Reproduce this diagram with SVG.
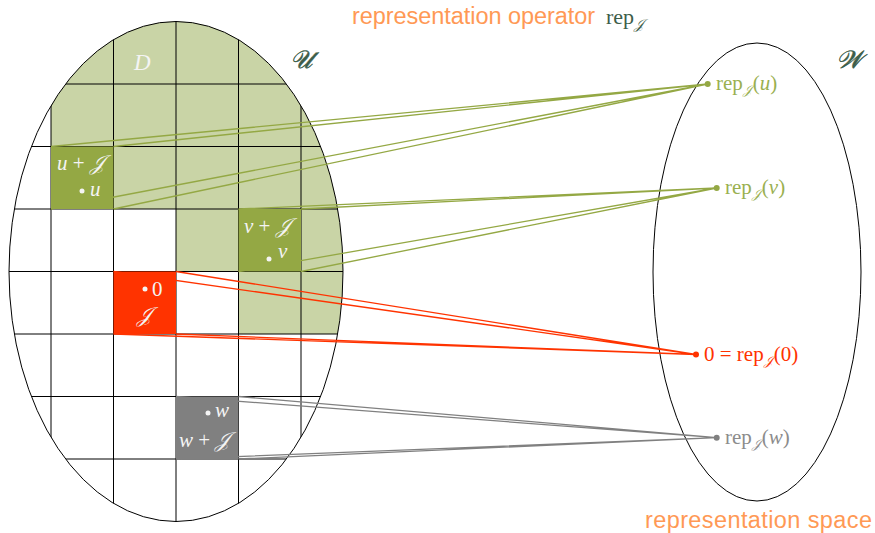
<svg xmlns="http://www.w3.org/2000/svg" width="875" height="533" viewBox="0 0 875 533">
<style>
.ell{fill:none;stroke:#000;stroke-width:1}
.grid{stroke:#000;stroke-width:1;fill:none}
.cg{stroke:#94a844;stroke-width:1.3;fill:none}
.cr{stroke:#ff3300;stroke-width:1.3;fill:none}
.ck{stroke:#808080;stroke-width:1.3;fill:none}
.m{font-family:"Liberation Serif","DejaVu Serif",serif;}
.mi{font-family:"Liberation Serif","DejaVu Serif",serif;font-style:italic}
.sc{font-family:"DejaVu Serif","Noto Sans","DejaVu Sans",serif;font-style:italic}
.big{fill:#3d5e4a;stroke:#3d5e4a;stroke-width:0.5}
.w{fill:#f4f4f4}
.sans{font-family:"Liberation Sans",Arial,sans-serif;fill:#ff9955}
</style>
<defs>
<clipPath id="clipU"><ellipse cx="176" cy="271.5" rx="167" ry="250"/></clipPath>
</defs>
<g id="U">
<path d="M-20 0H400V334H238.5V271.5H176V209H51V84H-20Z" fill="#c9d4a6" clip-path="url(#clipU)"/>
<g clip-path="url(#clipU)" class="grid">
<path d="M51 0V533M113.5 0V533M176 0V533M238.5 0V533M301 0V533"/>
<path d="M0 84H360M0 146.5H360M0 209H360M0 271.5H360M0 334H360M0 396.5H360M0 459H360"/>
</g>
<ellipse class="ell" cx="176" cy="271.5" rx="167" ry="250"/>
<text class="mi w" x="134" y="70" font-size="23">D</text>
<text class="sc big" x="290" y="68" font-size="25">𝒰</text>
</g>
<g id="W">
<ellipse class="ell" cx="757" cy="272" rx="104" ry="229"/>
<text class="sc big" x="836" y="68" font-size="25">𝒲</text>
</g>
<g id="connectors">
<path class="cg" d="M51 146.5L707.7 84M113.5 146.5L707.7 84M51 209L707.7 84M113.5 209L707.7 84"/>
<path class="cg" d="M238.5 209L716.7 188M301 209L716.7 188M238.5 271.5L716.7 188M301 271.5L716.7 188"/>
<path class="cr" d="M113.5 271.5L696 354.5M176 271.5L696 354.5M113.5 334L696 354.5M176 334L696 354.5"/>
<path class="ck" d="M176 396.5L716.7 437.7M238.5 396.5L716.7 437.7M176 459L716.7 437.7M238.5 459L716.7 437.7"/>
</g>
<g id="cell-u">
<rect x="51" y="146.5" width="62.5" height="62.5" fill="#94a844"/>
<text class="w" x="57" y="170" font-size="21"><tspan class="mi">u</tspan><tspan class="m"> + </tspan><tspan class="sc">𝒥</tspan></text>
<circle cx="82" cy="191" r="2.5" fill="#f4f4f4"/>
<text class="mi w" x="90" y="196" font-size="21">u</text>
</g>
<g id="cell-v">
<rect x="238.5" y="209" width="62.5" height="62.5" fill="#94a844"/>
<text class="w" x="244" y="233" font-size="21"><tspan class="mi">v</tspan><tspan class="m"> + </tspan><tspan class="sc">𝒥</tspan></text>
<circle cx="269" cy="259" r="2.5" fill="#f4f4f4"/>
<text class="mi w" x="278" y="258" font-size="21">v</text>
</g>
<g id="cell-0">
<rect x="113.5" y="271.5" width="62.5" height="62.5" fill="#ff3300"/>
<circle cx="145" cy="289" r="2.5" fill="#f4f4f4"/>
<text class="m w" x="152" y="296" font-size="21">0</text>
<text class="sc w" x="137" y="322" font-size="21">𝒥</text>
</g>
<g id="cell-w">
<rect x="176" y="396.5" width="62.5" height="62.5" fill="#808080"/>
<circle cx="208" cy="413" r="2.5" fill="#f4f4f4"/>
<text class="mi w" x="215" y="417" font-size="21">w</text>
<text class="w" x="179" y="447" font-size="21"><tspan class="mi">w</tspan><tspan class="m"> + </tspan><tspan class="sc">𝒥</tspan></text>
</g>
<g id="rep-u">
<circle cx="707.7" cy="84" r="3" fill="#94a844"/>
<text x="716" y="90" font-size="21" fill="#9ab050"><tspan class="m">rep</tspan><tspan class="sc" font-size="13" dy="4">𝒥</tspan><tspan class="m" dy="-4" dx="1">(</tspan><tspan class="mi">u</tspan><tspan class="m">)</tspan></text>
</g>
<g id="rep-v">
<circle cx="716.7" cy="188" r="3" fill="#94a844"/>
<text x="725" y="194" font-size="21" fill="#9ab050"><tspan class="m">rep</tspan><tspan class="sc" font-size="13" dy="4">𝒥</tspan><tspan class="m" dy="-4" dx="1">(</tspan><tspan class="mi">v</tspan><tspan class="m">)</tspan></text>
</g>
<g id="rep-0">
<circle cx="696" cy="354.5" r="3" fill="#ff3300"/>
<text x="704" y="361" font-size="21" fill="#ff3300"><tspan class="m">0 = rep</tspan><tspan class="sc" font-size="13" dy="4">𝒥</tspan><tspan class="m" dy="-4" dx="1">(0)</tspan></text>
</g>
<g id="rep-w">
<circle cx="716.7" cy="437.7" r="3" fill="#808080"/>
<text x="725" y="444" font-size="21" fill="#8c8c8c"><tspan class="m">rep</tspan><tspan class="sc" font-size="13" dy="4">𝒥</tspan><tspan class="m" dy="-4" dx="1">(</tspan><tspan class="mi">w</tspan><tspan class="m">)</tspan></text>
</g>
<g id="title">
<text class="sans" x="352" y="24" font-size="23.5" textLength="243">representation operator</text>
<text x="606" y="24" font-size="22" fill="#3d5e4a"><tspan class="m">rep</tspan><tspan class="sc" font-size="14" dy="5">𝒥</tspan></text>
</g>
<g id="space-label">
<text class="sans" x="645" y="528" font-size="23.5" textLength="227">representation space</text>
</g>
</svg>
